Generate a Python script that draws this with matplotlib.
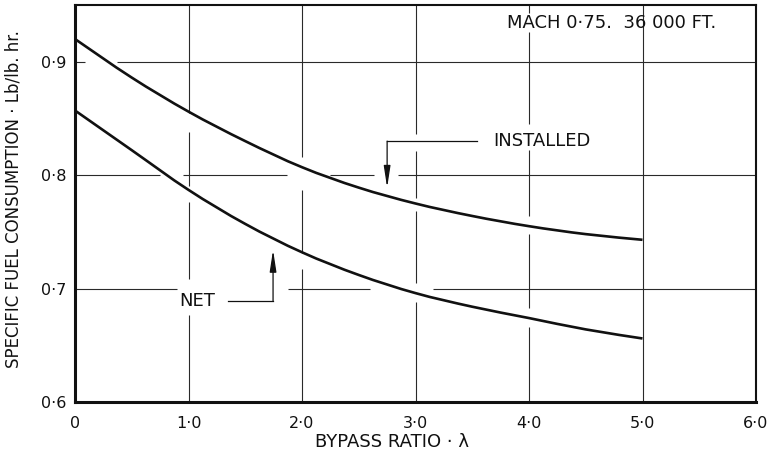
import matplotlib
matplotlib.use("Agg")
import matplotlib.pyplot as plt
from matplotlib.path import Path
from matplotlib.patches import PathPatch

# Bypass ratio and specific fuel consumption (lb/lb.hr) at Mach 0.75, 36 000 ft
bypass_ratio = [0.0, 0.5, 1.0, 1.5, 2.0, 2.5, 3.0, 3.5, 4.0, 4.5, 5.0]
sfc_installed = [0.920, 0.886, 0.856, 0.830, 0.807, 0.789, 0.775, 0.764, 0.755, 0.748, 0.743]
sfc_net = [0.857, 0.822, 0.787, 0.757, 0.732, 0.712, 0.696, 0.684, 0.674, 0.664, 0.656]

x_ticks = [0, 1, 2, 3, 4, 5, 6]
x_tick_labels = ["0", "1·0", "2·0", "3·0", "4·0", "5·0", "6·0"]
y_ticks = [0.6, 0.7, 0.8, 0.9]
y_tick_labels = ["0·6", "0·7", "0·8", "0·9"]

plt.rcParams["font.family"] = ["DejaVu Sans"]
INK = "#111111"

fig = plt.figure(figsize=(7.77, 4.54), dpi=100)
ax = fig.add_axes([75 / 777, 52 / 454, 681 / 777, 397 / 454])
ax.set_xlim(0, 6)
ax.set_ylim(0.6, 0.95)

# broken drafting-style grid: lines are interrupted where curves, labels and leaders cross
v_gaps = {
    1: [(0.838, 0.855), (0.776, 0.790), (0.677, 0.708)],
    2: [(0.787, 0.816), (0.717, 0.731)],
    3: [(0.821, 0.836), (0.768, 0.780), (0.688, 0.705)],
    4: [(0.926, 0.943), (0.822, 0.845), (0.748, 0.764), (0.666, 0.683)],
    5: [],
}
h_gaps = {
    0.9: [(0.09, 0.37)],
    0.8: [(0.75, 0.95), (1.87, 2.25), (2.63, 2.85)],
    0.7: [(0.90, 1.88), (2.60, 3.15)],
}


def segments(lo, hi, gaps):
    pieces, start = [], lo
    for a, b in sorted(gaps):
        pieces.append((start, a))
        start = b
    pieces.append((start, hi))
    return pieces


grid_kw = dict(color="#2a2a2a", lw=0.8, zorder=1, solid_capstyle="butt")
for xv, gaps in v_gaps.items():
    for a, b in segments(0.6, 0.95, gaps):
        ax.plot([xv, xv], [a, b], **grid_kw)
for yv, gaps in h_gaps.items():
    for a, b in segments(0, 6, gaps):
        ax.plot([a, b], [yv, yv], **grid_kw)


def smooth_curve(xs, ys):
    """Cubic Bezier path through every point (Catmull-Rom tangents)."""
    pts = list(zip(xs, ys))
    verts = [pts[0]]
    codes = [Path.MOVETO]
    n = len(pts)
    for i in range(n - 1):
        p0 = pts[i - 1] if i > 0 else pts[i]
        p1, p2 = pts[i], pts[i + 1]
        p3 = pts[i + 2] if i + 2 < n else pts[i + 1]
        c1 = (p1[0] + (p2[0] - p0[0]) / 6, p1[1] + (p2[1] - p0[1]) / 6)
        c2 = (p2[0] - (p3[0] - p1[0]) / 6, p2[1] - (p3[1] - p1[1]) / 6)
        verts += [c1, c2, p2]
        codes += [Path.CURVE4] * 3
    return Path(verts, codes)


for series in (sfc_installed, sfc_net):
    ax.add_patch(PathPatch(smooth_curve(bypass_ratio, series), fill=False,
                           edgecolor=INK, lw=1.9, zorder=3, capstyle="butt"))

# axes frame
for side in ("left", "bottom"):
    ax.spines[side].set_linewidth(2.2)
for side in ("top", "right"):
    ax.spines[side].set_linewidth(1.5)
for sp in ax.spines.values():
    sp.set_color(INK)

ax.set_xticks(x_ticks)
ax.set_xticklabels(x_tick_labels)
ax.set_yticks(y_ticks)
ax.set_yticklabels(y_tick_labels)
ax.tick_params(axis="both", length=0, labelsize=11.5, labelcolor=INK)
ax.tick_params(axis="x", pad=10)
ax.tick_params(axis="y", pad=6)

ax.set_xlabel("BYPASS RATIO · λ", fontsize=13, color=INK, va="center")
ax.xaxis.set_label_coords(0.466, -0.101)
ax.set_ylabel("SPECIFIC FUEL CONSUMPTION · Lb/lb. hr.", fontsize=12,
              color=INK, va="center")
ax.yaxis.set_label_coords(-0.091, 0.511)

# flight condition
ax.text(4.73, 0.9345, "MACH 0·75.  36 000 FT.", fontsize=13, color=INK,
        ha="center", va="center", zorder=4)

# curve labels with leaders
arrow_kw = dict(arrowstyle="-|>,head_length=1.3,head_width=0.2",
                color=INK, lw=0.9, shrinkA=0, shrinkB=0)

ax.text(4.11, 0.830, "INSTALLED", fontsize=13, color=INK,
        ha="center", va="center", zorder=4)
ax.plot([3.54, 2.75], [0.830, 0.830], color=INK, lw=0.9, zorder=4)
ax.annotate("", xy=(2.75, 0.789), xytext=(2.75, 0.830),
            arrowprops=arrow_kw, zorder=4)

ax.text(1.075, 0.689, "NET", fontsize=13, color=INK,
        ha="center", va="center", zorder=4)
ax.plot([1.35, 1.745], [0.689, 0.689], color=INK, lw=0.9, zorder=4)
ax.annotate("", xy=(1.745, 0.734), xytext=(1.745, 0.689),
            arrowprops=arrow_kw, zorder=4)

fig.savefig("out.png", dpi=100, facecolor="white")
